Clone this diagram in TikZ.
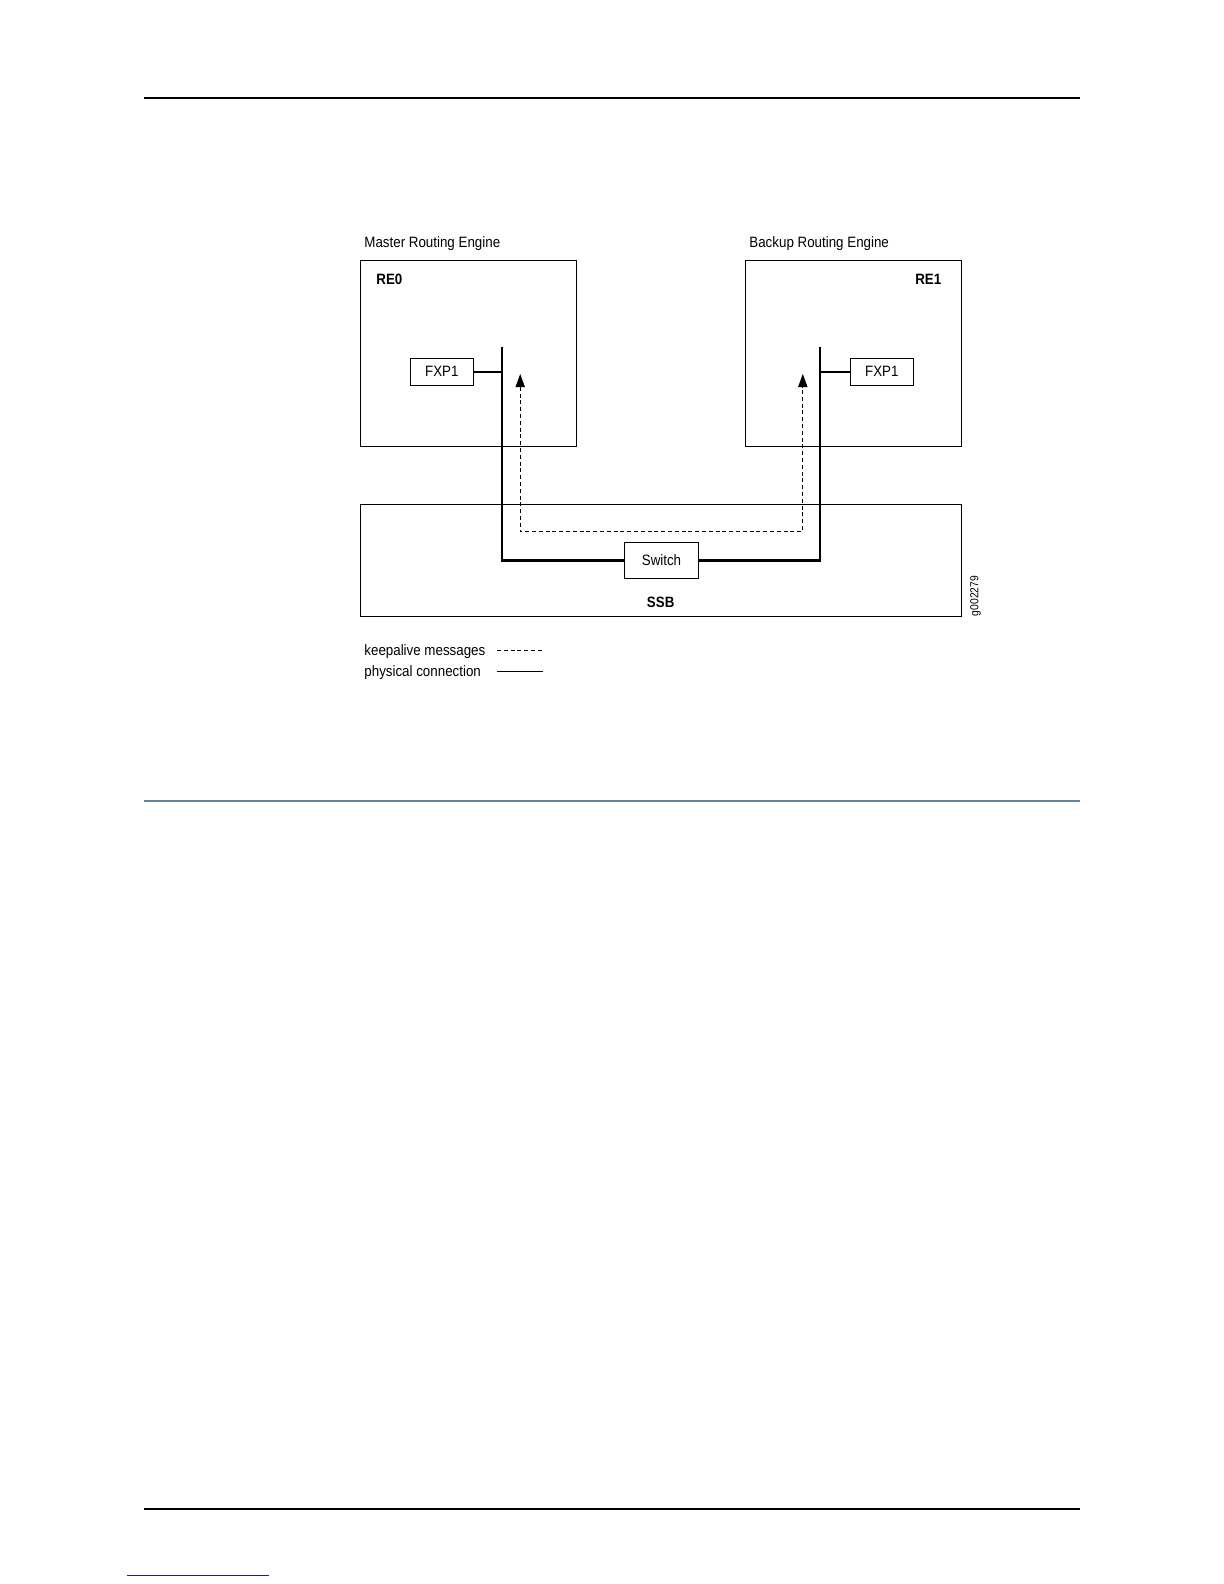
\documentclass[tikz,border=0pt]{standalone}
\usepackage{fontspec}
\setmainfont{Liberation Sans}[FakeStretch=0.89]
\usepackage{xcolor}
\usepackage{tikz}
\usetikzlibrary{arrows.meta,positioning}

\definecolor{rulegray}{RGB}{96,132,158}
\definecolor{linkblue}{RGB}{30,30,140}

\begin{document}
\begin{tikzpicture}[
  x=0.5pt,y=-0.5pt,
  font=\fontsize{7.5}{8.5}\selectfont,
  box/.style={draw,line width=0.6pt,inner sep=0pt,outer sep=0pt},
  phys/.style={line width=1.1pt},
  keep/.style={line width=0.5pt,dash pattern=on 2pt off 1.4pt,
    {Triangle[length=6.5pt,width=4.6pt]}-{Triangle[length=6.5pt,width=4.6pt]}},
  lbl/.style={inner sep=0pt}
]
\useasboundingbox (0,0) rectangle (1224,1584);

% page rules
\draw[line width=1pt] (144,98) -- (1080,98);
\draw[line width=1pt,rulegray] (144,800.7) -- (1080,800.7);
\draw[line width=1pt] (144,1509) -- (1080,1509);
\draw[line width=0.5pt,linkblue] (127,1575) -- (269,1575);

% routing engines
\node[box,minimum width=108pt,minimum height=93.2pt] (re0) at (468.7,353.5) {};
\node[box,minimum width=108pt,minimum height=93.2pt] (re1) at (853.3,353.5) {};
\node[lbl,anchor=base west] (re0title) at (364,247.3) {Master Routing Engine};
\node[lbl,anchor=base west] (re1title) at (749,247.3) {Backup Routing Engine};
\node[lbl,anchor=base west,font=\fontsize{7.5}{8.5}\selectfont\bfseries] (re0name) at (376,284.5) {RE0};
\node[lbl,anchor=base east,font=\fontsize{7.5}{8.5}\selectfont\bfseries] (re1name) at (941.7,284.5) {RE1};

\node[box,minimum width=31.5pt,minimum height=13.5pt] (fxp0) at (441.8,371.8) {FXP1};
\node[box,minimum width=31.5pt,minimum height=13.5pt] (fxp1) at (881.8,371.8) {FXP1};

% switch board
\node[box,minimum width=300.5pt,minimum height=56pt] (ssb) at (661.1,560.3) {};
\node[lbl,anchor=base,font=\fontsize{7.5}{8.5}\selectfont\bfseries] (ssbname) at (660.7,607.3) {SSB};
\node[box,fill=white,minimum width=37pt,minimum height=18pt] (sw) at (661.5,560.5) {Switch};
\node[lbl,rotate=90,font=\fontsize{5.8}{6.5}\selectfont] (fig) at (975.5,596) {g002279};

% physical connections
\coordinate (bus0) at (501.6,347.3);
\coordinate (bus1) at (819.8,347.3);
\draw[phys] (bus0) |- (sw.west);
\draw[phys] (bus1) |- (sw.east);
\draw[phys] (fxp0.east) -- (fxp0.east -| bus0);
\draw[phys] (fxp1.west) -- (fxp1.west -| bus1);

% keepalive path
\coordinate (ka0) at (520.2,374);
\coordinate (ka1) at (802.8,374);
\draw[keep] (ka0) -- (520.2,531.3) -| (ka1);

% legend
\node[lbl,anchor=base west] (keeptxt) at (364,655) {keepalive messages};
\node[lbl,anchor=base west] (phystxt) at (364,676) {physical connection};
\coordinate (keepA) at (497,650.7);
\coordinate (keepB) at (543,650.7);
\coordinate (physA) at (497,671.7);
\coordinate (physB) at (543,671.7);
\draw[line width=0.5pt,dash pattern=on 2pt off 1.4pt] (keepA) -- (keepB);
\draw[line width=0.6pt] (physA) -- (physB);
\end{tikzpicture}
\end{document}
